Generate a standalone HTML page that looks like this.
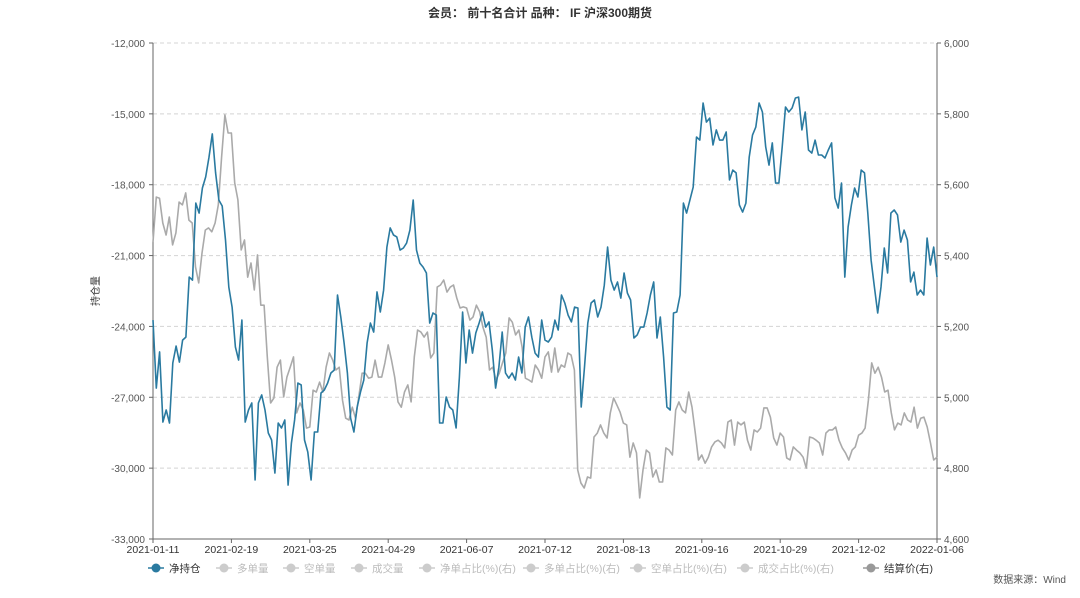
<!DOCTYPE html>
<html><head><meta charset="utf-8"><style>
body{margin:0;background:#fff;width:1080px;height:593px;overflow:hidden;font-family:"Liberation Sans","Noto Sans CJK SC",sans-serif}
svg text{font-family:"Liberation Sans","Noto Sans CJK SC",sans-serif}
</style></head><body>
<svg id="chart" width="1080" height="593" xmlns="http://www.w3.org/2000/svg">
<text x="540" y="17" text-anchor="middle" font-size="12" font-weight="bold" fill="#333">会员：  前十名合计 品种：  IF 沪深300期货</text>
<text transform="translate(99,291) rotate(-90)" text-anchor="middle" font-size="10" fill="#333">持仓量</text>
<text x="1066" y="583" text-anchor="end" font-size="10" fill="#555">数据来源：Wind</text>
<g id="grid"></g><g id="axes"></g><g id="series"></g><g id="legend"></g>
</svg>
<script>
const xTickLabels=["2021-01-11","2021-02-19","2021-03-25","2021-04-29","2021-06-07","2021-07-12","2021-08-13","2021-09-16","2021-10-29","2021-12-02","2022-01-06"];
const leftTicks=[-12000,-15000,-18000,-21000,-24000,-27000,-30000,-33000];
const rightTicks=[6000,5800,5600,5400,5200,5000,4800,4600];
const netPosition=[-23730,-26610,-25080,-28050,-27540,-28090,-25550,-24830,-25510,-24580,-24450,-21910,-22040,-18780,-19200,-18140,-17670,-16830,-15850,-17500,-18650,-18900,-20340,-22330,-23180,-24870,-25420,-23730,-28050,-27540,-27240,-30500,-27240,-26900,-27540,-28510,-28810,-30210,-28090,-28300,-27960,-30720,-28940,-27960,-26400,-26480,-28810,-29320,-30500,-28470,-28470,-26820,-26690,-26400,-25970,-25850,-22670,-23600,-24700,-25970,-27880,-28470,-27410,-26780,-26270,-24700,-23860,-24240,-22540,-23390,-22460,-20640,-19830,-20130,-20210,-20770,-20680,-20470,-19920,-18650,-20770,-21320,
-21490,-21740,-23860,-23430,-23520,-28090,-28090,-26990,-27410,-27540,-28300,-26140,-23390,-25550,-24150,-25130,-24280,-23860,-23390,-24030,-23810,-25000,-26610,-25720,-24240,-25970,-26190,-25970,-26270,-25300,-25970,-24030,-23600,-24450,-25130,-25300,-23730,-24580,-24660,-24450,-23730,-24150,-22670,-23010,-23520,-23810,-23180,-23220,-27410,-25720,-23860,-23010,-22880,-23600,-23180,-22250,-20640,-22040,-22460,-22120,-22800,-21740,-22590,-22880,-24490,-24360,-24030,-24030,-23430,-22670,-22120,-24490,-23600,-25300,-27410,-27540,-23430,-23390,-22670,
-18780,-19200,-18650,-18100,-15980,-16110,-14540,-15350,-15180,-16320,-15680,-16110,-16110,-15770,-17800,-17380,-17500,-18860,-19160,-18780,-16830,-15900,-15560,-14540,-14920,-16400,-17170,-16230,-17930,-17930,-16400,-14710,-14920,-14750,-14330,-14290,-15680,-14920,-16530,-16660,-16110,-16740,-16740,-16870,-16530,-16230,-18560,-18990,-17930,-21910,-19790,-18860,-18140,-18520,-17380,-17500,-19200,-21190,-22330,-23430,-22330,-20680,-21740,-19200,-19070,-19280,-20430,-19920,-20340,-22120,-21700,-22670,-22460,-22670,-20260,-21400,-20640,-21910];
const settlePrice=[5438,5565,5562,5492,5458,5509,5430,5464,5551,5543,5577,5500,5492,5368,5323,5407,5472,5478,5467,5492,5543,5678,5797,5746,5746,5605,5557,5416,5444,5339,5379,5303,5402,5260,5260,5114,4984,4998,5085,5105,5001,5057,5085,5114,4956,4984,4964,4913,4916,5020,5015,5043,5015,5085,5125,5105,5077,5085,4992,4941,4936,4972,4941,5001,5068,5068,5054,5057,5105,5057,5057,5097,5148,5105,5057,4987,4972,5015,5035,4987,5114,5190,5184,
5170,5184,5111,5125,5311,5317,5331,5297,5311,5317,5280,5252,5255,5252,5218,5227,5260,5241,5198,5170,5077,5085,5049,5068,5097,5125,5224,5212,5176,5190,5142,5054,5049,5043,5091,5077,5054,5114,5128,5071,5139,5071,5091,5085,5125,5119,5077,4795,4758,4744,4775,4772,4888,4899,4922,4899,4885,4956,4998,4978,4958,4927,4922,4831,4871,4843,4716,4795,4851,4843,4775,4795,4761,4761,4857,4851,4837,4964,4987,
4964,4956,5015,4972,4899,4823,4837,4814,4831,4860,4874,4879,4871,4857,4930,4936,4865,4930,4922,4930,4879,4851,4908,4902,4913,4970,4970,4944,4885,4865,4899,4888,4829,4823,4860,4851,4843,4831,4800,4888,4885,4879,4871,4837,4899,4908,4908,4916,4879,4857,4843,4823,4851,4860,4893,4899,4913,4992,5097,5068,5085,5057,5015,5020,4956,4908,4927,4922,4956,4936,4930,4972,4913,4941,4944,4916,4871,4823,4831];
const legendLabels=["净持仓","多单量","空单量","成交量","净单占比(%)(右)","多单占比(%)(右)","空单占比(%)(右)","成交占比(%)(右)","结算价(右)"];

const NS="http://www.w3.org/2000/svg";
const X0=153,X1=937,Y0=43,Y1=539;
const yL=v=>Y0+(-12000-v)/21000*(Y1-Y0);
const yR=v=>Y0+(6000-v)/1400*(Y1-Y0);
const xI=(i,n)=>X0+i/(n-1)*(X1-X0);
function mk(tag,attrs,parent){const e=document.createElementNS(NS,tag);for(const k in attrs)e.setAttribute(k,attrs[k]);parent.appendChild(e);return e;}
const grid=document.getElementById('grid'),axes=document.getElementById('axes'),series=document.getElementById('series'),legend=document.getElementById('legend');
leftTicks.forEach((v,i)=>{const y=yL(v);
 if(i<leftTicks.length-1){const g=mk('line',{x1:X0,x2:X1,y1:y,y2:y,stroke:'#d4d4d4','stroke-dasharray':'4,3'},grid);
 
 }
 const t=mk('text',{x:X0-8,y:y+4,'text-anchor':'end','font-size':'10',fill:'#555'},axes);t.textContent=v.toLocaleString('en-US');
 
 
 mk('line',{x1:X0-4,x2:X0,y1:y,y2:y,stroke:'#666'},axes);});
rightTicks.forEach(v=>{const y=yR(v);
 const t=mk('text',{x:X1+7,y:y+4,'font-size':'10',fill:'#555'},axes);t.textContent=v.toLocaleString('en-US');
 
 
 mk('line',{x1:X1,x2:X1+4,y1:y,y2:y,stroke:'#666'},axes);});
const la=mk('line',{x1:X0,x2:X0,y1:Y0,y2:Y1,stroke:'#666'},axes);


const ra=mk('line',{x1:X1,x2:X1,y1:Y0,y2:Y1,stroke:'#666'},axes);


const xa=mk('line',{x1:X0,x2:X1,y1:Y1,y2:Y1,stroke:'#666'},axes);


xTickLabels.forEach((s,i)=>{const x=xI(i,xTickLabels.length);
 mk('line',{x1:x,x2:x,y1:Y1,y2:Y1+4,stroke:'#666'},axes);
 const t=mk('text',{x:x,y:Y1+14,'text-anchor':'middle','font-size':'10.5',fill:'#333'},axes);t.textContent=s;
 
 });
function line(arr,yf,color,name){const pts=arr.map((v,i)=>xI(i,arr.length).toFixed(1)+','+yf(v).toFixed(1)).join(' ');
 const p=mk('polyline',{points:pts,fill:'none',stroke:color,'stroke-width':'1.6','stroke-linejoin':'round'},series);
 
 }
line(settlePrice,yR,'#aaaaaa','settle-price-line');
line(netPosition,yL,'#2a7aa0','net-position-line');
const lx=[148,216,283,351,419,523,630,737,863];
legendLabels.forEach((s,i)=>{const g=mk('g',{},legend);
 
 
 const c=i==0?'#2a7aa0':(i==8?'#999':'#ccc');
 mk('line',{x1:lx[i],x2:lx[i]+16,y1:568,y2:568,stroke:c,'stroke-width':'1.5'},g);
 mk('circle',{cx:lx[i]+8,cy:568,r:4.5,fill:c},g);
 const t=mk('text',{x:lx[i]+21,y:572,'font-size':'10.5',fill:i==0||i==8?'#333':'#bbb'},g);t.textContent=s;});
</script>
</body></html>
